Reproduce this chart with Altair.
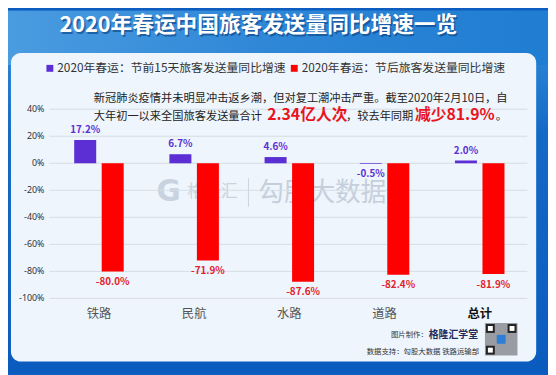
import altair as alt
import pandas as pd

categories = ["铁路", "民航", "水路", "道路", "总计"]
pre_holiday = [17.2, 6.7, 4.6, -0.5, 2.0]
post_holiday = [-80.0, -71.9, -87.6, -82.4, -81.9]
legend_names = ["2020年春运：节前15天旅客发送量同比增速", "2020年春运：节后旅客发送量同比增速"]
y_ticks = [40, 20, 0, -20, -40, -60, -80, -100]
y_tick_labels = ["40%", "20%", "0%", "-20%", "-40%", "-60%", "-80%", "-100%"]
title_text = "2020年春运中国旅客发送量同比增速一览"

rows = []
for c, a, b in zip(categories, pre_holiday, post_holiday):
    rows.append({"cat": c, "series": "pre", "value": a, "label": f"{a:.1f}%"})
    rows.append({"cat": c, "series": "post", "value": b, "label": f"{b:.1f}%"})
df = pd.DataFrame(rows)
grid_df = pd.DataFrame({"v": y_ticks, "t": y_tick_labels})

W, H = 483, 192
PAD = {"left": 44, "top": 100, "right": 21, "bottom": 75}

FONT = "Noto Sans CJK SC"
PURPLE = "#5b2fd4"
RED = "#ff0000"
LABEL_RED = "#e3212b"
TEXT_RED = "#e8141e"

ONE = alt.Data(values=[{"a": 1}])
YSCALE = alt.Scale(domain=[-100, 40], nice=False, zero=False)


def deco_rect(x, x2, y, y2, **kw):
    return alt.Chart(ONE).mark_rect(**kw).encode(
        x=alt.value(x), x2=alt.value(x2), y=alt.value(y), y2=alt.value(y2))


def deco_text(txt, x, y, **kw):
    kw.setdefault("font", FONT)
    return alt.Chart(ONE).mark_text(**kw).encode(
        x=alt.value(x), y=alt.value(y), text=alt.value(txt))


bg = deco_rect(-44, 504, -100, 267, fill={
    "gradient": "linear", "x1": 0, "y1": 0, "x2": 0, "y2": 1,
    "stops": [{"offset": 0, "color": "#3690dc"}, {"offset": 0.13, "color": "#2a82d4"},
              {"offset": 0.35, "color": "#1468c6"}, {"offset": 1, "color": "#0b5bbf"}]})
topband = deco_rect(-44, 504, -100, -45, fill={
    "gradient": "linear", "x1": 0, "y1": 0, "x2": 1, "y2": 0,
    "stops": [{"offset": 0, "color": "#4a9ce0"}, {"offset": 0.5, "color": "#2e86d6"},
              {"offset": 1, "color": "#1f7dd2"}]})
panel = deco_rect(-41, 492, -57, 256, fill="#eef5fc", cornerRadius=10)

# watermark
wm = [
    deco_text("G", 119, 84, fontSize=30, fontWeight="bold", color="#c9d3df", align="center", baseline="middle", font="DejaVu Sans"),
    deco_text("格隆汇", 138, 84, fontSize=17, color="#c9d3df", align="left", baseline="middle"),
    alt.Chart(ONE).mark_rule(color="#c9d3df", strokeWidth=1).encode(
        x=alt.value(200), y=alt.value(70), y2=alt.value(99)),
    deco_text("勾股大数据", 210, 85, fontSize=26, color="#c5cfdb", align="left", baseline="middle"),
]

grid = alt.Chart(grid_df).mark_rule(color="#d6dce4", strokeWidth=1).encode(
    y=alt.Y("v:Q", scale=YSCALE, axis=None),
    x=alt.value(-2), x2=alt.value(483))
ylabels = alt.Chart(grid_df).mark_text(align="right", baseline="middle", fontSize=9, color="#333333",
                                       font="Noto Sans").encode(
    y=alt.Y("v:Q", scale=YSCALE, axis=None), x=alt.value(-7), text="t:N")

x_enc = alt.X("cat:N", sort=categories,
              scale=alt.Scale(paddingInner=0.48, paddingOuter=0.24),
              axis=alt.Axis(title=None, domain=False, ticks=False, grid=False, zindex=1,
                            labelFont=FONT, labelFontSize=12.5, labelPadding=9, labelAngle=0,
                            labelColor={"condition": {"test": "datum.value == '总计'", "value": "#111111"}, "value": "#555555"},
                            labelFontWeight={"condition": {"test": "datum.value == '总计'", "value": "bold"}, "value": "normal"}))
y_enc = alt.Y("value:Q", scale=YSCALE, axis=None)
xo = alt.XOffset("series:N", sort=["pre", "post"], scale=alt.Scale(paddingInner=0.2, paddingOuter=0))

base = alt.Chart(df)
bars = base.mark_bar().encode(
    x=x_enc, y=y_enc, xOffset=xo,
    color=alt.Color("series:N", scale=alt.Scale(domain=["pre", "post"], range=[PURPLE, RED]), legend=None))

lab_kw = dict(font=FONT, fontWeight="bold", fontSize=10)
pre_pos = base.transform_filter("datum.series == 'pre' && datum.value >= 0").mark_text(
    baseline="bottom", dy=-5, color=PURPLE, **lab_kw).encode(x=x_enc, y=y_enc, xOffset=xo, text="label:N")
pre_neg = base.transform_filter("datum.series == 'pre' && datum.value < 0").mark_text(
    baseline="top", dy=5, color=PURPLE, **lab_kw).encode(x=x_enc, y=y_enc, xOffset=xo, text="label:N")
post_lab = base.transform_filter("datum.series == 'post'").mark_text(
    baseline="top", dy=6, color=LABEL_RED, **lab_kw).encode(x=x_enc, y=y_enc, xOffset=xo, text="label:N")

# title
title_layers = [
    deco_text(title_text, 211.5, -83.5, fontSize=22, fontWeight="bold", color="#0a3f7e", opacity=0.6,
              align="center", baseline="middle"),
    deco_text(title_text, 210, -85, fontSize=22, fontWeight="bold", color="#ffffff",
              align="center", baseline="middle"),
]

# legend
legend_layers = [
    deco_rect(-5, 2, -45, -38, fill=PURPLE),
    deco_text(legend_names[0], 6, -41.5, fontSize=12, color="#333333", align="left", baseline="middle"),
    deco_rect(243, 250, -45, -38, fill=RED),
    deco_text(legend_names[1], 254, -41.5, fontSize=12, color="#333333", align="left", baseline="middle"),
]

# annotation
ann = [
    deco_text("新冠肺炎疫情并未明显冲击返乡潮，但对复工潮冲击严重。截至2020年2月10日，自", 43, -7,
              fontSize=11.4, color="#222222", align="left", baseline="alphabetic"),
    deco_text("大年初一以来全国旅客发送量合计", 43, 11, fontSize=11.4, color="#222222", align="left", baseline="alphabetic"),
    deco_text("2.34亿人次", 219, 11, fontSize=16, fontWeight="bold", color=TEXT_RED, align="left", baseline="alphabetic"),
    deco_text("，较去年同期", 299, 11, fontSize=11.4, color="#222222", align="left", baseline="alphabetic"),
    deco_text("减少81.9%", 369, 11, fontSize=16, fontWeight="bold", color=TEXT_RED, align="left", baseline="alphabetic"),
    deco_text("。", 451, 11, fontSize=11.4, color="#222222", align="left", baseline="alphabetic"),
]

# footer
footer = [
    deco_text("图片制作：", 382, 229, fontSize=7.5, color="#333333", align="right", baseline="middle"),
    deco_text("格隆汇学堂", 383, 229, fontSize=10, fontWeight="bold", color="#1b2b5e", align="left", baseline="middle"),
    deco_text("数据支持：勾股大数据  铁路运输部", 434, 246, fontSize=7.5, color="#333333", align="right", baseline="middle"),
    deco_rect(440, 473, 217, 250, fill="#9a9ca3"),
    deco_rect(441, 450, 218, 227, fill="#222222"),
    deco_rect(463, 472, 218, 227, fill="#222222"),
    deco_rect(441, 450, 240, 249, fill="#222222"),
    deco_rect(443, 448, 220, 225, fill="#ffffff"),
    deco_rect(465, 470, 220, 225, fill="#ffffff"),
    deco_rect(443, 448, 242, 247, fill="#ffffff"),
    deco_rect(452, 461, 229, 238, fill="#2d7fd6"),
]

chart = alt.layer(
    bg, topband, panel, *wm, grid, ylabels, bars, pre_pos, pre_neg, post_lab,
    *title_layers, *legend_layers, *ann, *footer
).properties(
    width=W, height=H, padding=PAD,
    autosize=alt.AutoSizeParams(type="none"),
    background="#0d5dc0",
).configure_view(stroke=None)

chart.save("out.html", embed_options={"renderer": "svg", "actions": False})
